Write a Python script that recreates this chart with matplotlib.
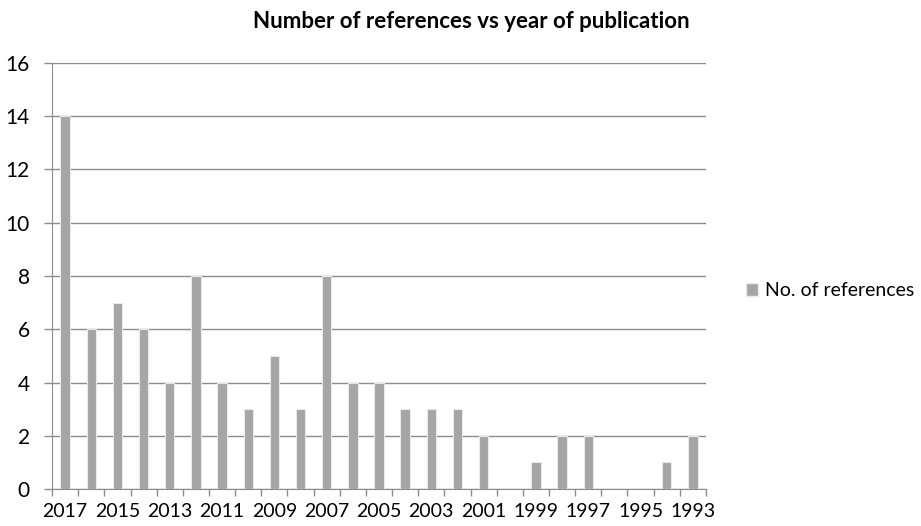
import numpy as np
import matplotlib
matplotlib.use('Agg')
import matplotlib.pyplot as plt
from matplotlib.patches import Patch

# datos
years = [str(y) for y in range(2017, 1992, -1)]
refs = [14, 6, 7, 6, 4, 8, 4, 3, 5, 3, 8, 4, 4, 3, 3, 3, 2, 0, 1, 2, 2, 0, 0, 1, 2]
yticks = [0, 2, 4, 6, 8, 10, 12, 14, 16]

plt.rcParams['font.family'] = ['Lato', 'DejaVu Sans']

fig = plt.figure(figsize=(9.21, 5.26), dpi=100)
ax = fig.add_axes([0.0565, 0.0703, 0.71, 0.81])

x = np.arange(len(years))
ax.bar(x, refs, width=0.36, color='#A5A5A5', edgecolor='#E8E8E8', linewidth=0.8, zorder=3)

ax.set_xlim(-0.5, len(years) - 0.5)
ax.set_ylim(0, 16)
ax.set_yticks(yticks)
ax.set_yticklabels([str(v) for v in yticks], fontsize=15)
ax.yaxis.grid(True, color='#8C8C8C', linewidth=1, zorder=0)

# ticks en los limites de categoria, etiquetas cada dos años
ax.set_xticks(np.arange(-0.5, len(years), 1), minor=True)
ax.set_xticks(x[::2])
ax.set_xticklabels(years[::2], fontsize=14)
ax.tick_params(axis='x', which='major', length=0, pad=10)
ax.tick_params(axis='x', which='minor', length=5, color='#8C8C8C', width=1)
ax.tick_params(axis='y', length=6, color='#8C8C8C', width=1, pad=10)

for s in ['top', 'right']:
    ax.spines[s].set_visible(False)
ax.spines['left'].set_color('#8C8C8C')
ax.spines['bottom'].set_color('#8C8C8C')

fig.text(0.512, 0.96, 'Number of references vs year of publication', ha='center',
         va='center', fontsize=16, fontweight='bold')

fig.legend(handles=[Patch(facecolor='#A5A5A5', edgecolor='#E8E8E8')],
           labels=['No. of references'], loc='center left',
           bbox_to_anchor=(0.806, 0.447), frameon=False, fontsize=14,
           handlelength=0.6, handleheight=0.6, handletextpad=0.35,
           borderpad=0.2, borderaxespad=0.0)

fig.savefig('out.png', dpi=100)
